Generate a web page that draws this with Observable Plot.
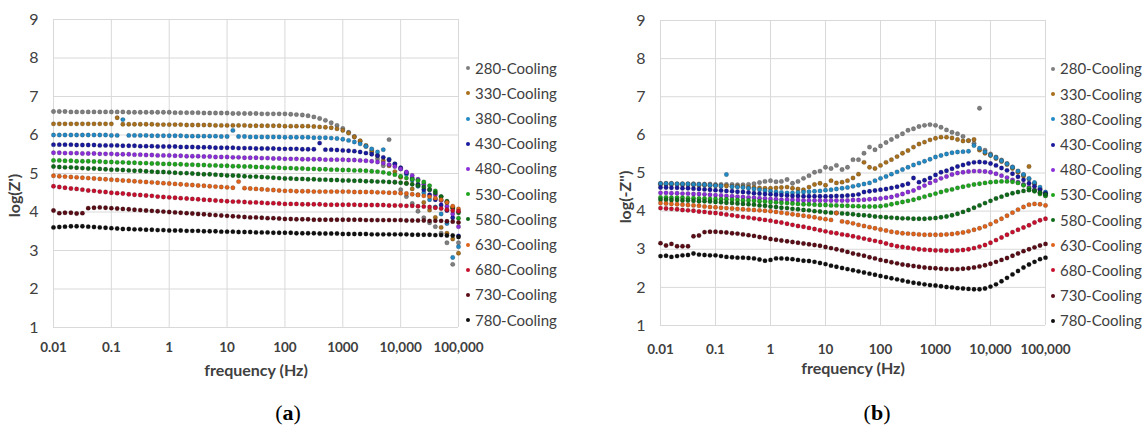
<!DOCTYPE html>
<html><head><meta charset="utf-8">
<script src="https://cdn.jsdelivr.net/npm/d3@7"></script>
<script src="https://cdn.jsdelivr.net/npm/@observablehq/plot@0.6"></script>
<style>
html,body{margin:0;padding:0;background:#fff;}
#wrap{position:relative;width:1146px;height:434px;overflow:hidden;background:#fff;font-family:Lato,"Open Sans",sans-serif;}
.panel{position:absolute;top:0;}
.legend{position:absolute;font-size:15px;color:#404040;line-height:25.2px;}
.legend .row{display:flex;align-items:center;white-space:nowrap;height:25.2px;}
.legend svg{margin-right:4px;}
.tag{position:absolute;font-family:"Liberation Serif",serif;font-size:22px;color:#000;transform:translate(-50%,-50%);}
</style></head><body><div id="wrap"></div><script>
// ---------- data ----------
const seriesNames = ["280-Cooling","330-Cooling","380-Cooling","430-Cooling","480-Cooling","530-Cooling","580-Cooling","630-Cooling","680-Cooling","730-Cooling","780-Cooling"];
const seriesColors = ["#7f7f7f","#a8701c","#2389c4","#1a1a9e","#8b2fd9","#1fa51f","#0f6a1a","#e0631b","#c8102e","#5a0d16","#111111"];
const xTicks = [0.01,0.1,1,10,100,1000,10000,100000];
const xTickLabels = ["0.01","0.1","1","10","100","1000","10,000","100,000"];
const yTicks = [1,2,3,4,5,6,7,8,9];
const freq = [
0.01,0.0126,0.0158,0.02,0.0251,0.0316,0.0398,0.0501,0.0631,0.0794,
0.1,0.126,0.158,0.2,0.251,0.316,0.398,0.501,0.631,0.794,
1,1.26,1.58,2,2.51,3.16,3.98,5.01,6.31,7.94,
10,12.6,15.8,20,25.1,31.6,39.8,50.1,63.1,79.4,
100,126,158,200,251,316,398,501,631,794,
1000,1259,1585,1995,2512,3162,3981,5012,6310,7943,
10000,12589,15849,19953,25119,31623,39811,50119,63096,79433,
100000];

// (a) log(Z')
const zr280 = [
6.61,6.61,6.61,6.60,6.60,6.60,6.60,6.60,6.60,6.60,
6.60,6.60,6.60,6.59,6.59,6.59,6.59,6.59,6.59,6.59,
6.59,6.58,6.58,6.58,6.58,6.58,6.57,6.57,6.57,6.57,
6.57,6.56,6.56,6.56,6.56,6.56,6.55,6.55,6.55,6.55,
6.55,6.54,6.53,6.52,6.50,6.47,6.43,6.38,6.32,6.25,
6.17,6.07,5.96,5.84,5.70,5.55,5.38,5.20,5.88,4.78,
4.58,4.40,4.22,4.02,3.85,3.72,3.62,3.45,3.20,2.64,
3.20];
const zr330 = [
6.29,6.29,6.29,6.29,6.29,6.29,6.29,6.29,6.29,6.29,
6.29,6.45,6.28,6.28,6.28,6.28,6.28,6.28,6.27,6.27,
6.27,6.27,6.27,6.26,6.26,6.26,6.26,6.26,6.25,6.25,
6.25,6.25,6.25,6.25,6.24,6.24,6.24,6.24,6.24,6.24,
6.23,6.23,6.23,6.23,6.23,6.22,6.21,6.20,6.19,6.16,
6.12,6.05,5.95,5.85,5.73,5.60,5.47,5.33,5.20,5.05,
4.90,4.75,4.60,4.45,4.25,4.05,3.86,3.60,3.45,3.30,
2.93];
const zr380 = [
6.00,6.00,6.00,6.00,6.00,6.00,6.00,6.00,6.00,6.00,
5.99,5.99,6.40,5.99,5.99,5.99,5.99,5.98,5.98,5.98,
5.98,5.98,5.98,5.97,5.97,5.97,5.97,5.97,5.97,5.96,
5.96,6.12,5.96,5.96,5.95,5.95,5.95,5.95,5.95,5.95,
5.94,5.94,5.94,5.94,5.94,5.93,5.93,5.93,5.92,5.91,
5.89,5.86,5.82,5.77,5.71,5.64,5.56,5.62,5.37,5.25,
5.12,4.98,4.83,4.67,4.50,4.32,4.13,3.95,3.70,2.82,
3.10];
const zr430 = [
5.75,5.75,5.75,5.75,5.74,5.74,5.74,5.74,5.73,5.73,
5.73,5.73,5.72,5.72,5.72,5.71,5.71,5.71,5.70,5.70,
5.70,5.70,5.69,5.69,5.69,5.68,5.68,5.68,5.67,5.67,
5.67,5.67,5.66,5.66,5.66,5.65,5.65,5.65,5.65,5.64,
5.64,5.64,5.64,5.63,5.63,5.63,5.79,5.62,5.62,5.61,
5.60,5.59,5.58,5.56,5.53,5.50,5.46,5.42,5.35,5.25,
5.15,5.02,4.88,4.72,4.58,4.45,4.32,4.18,4.04,3.85,
3.38];
const zr480 = [
5.54,5.54,5.53,5.53,5.53,5.52,5.52,5.52,5.51,5.51,
5.51,5.50,5.50,5.50,5.49,5.49,5.48,5.48,5.47,5.47,
5.47,5.46,5.46,5.45,5.45,5.45,5.44,5.44,5.43,5.43,
5.43,5.42,5.42,5.41,5.41,5.41,5.40,5.40,5.39,5.39,
5.38,5.38,5.38,5.37,5.37,5.37,5.37,5.36,5.36,5.36,
5.36,5.35,5.35,5.34,5.33,5.32,5.30,5.27,5.23,5.18,
5.12,5.04,4.95,4.85,4.72,4.58,4.45,4.30,4.15,3.95,
3.62];
const zr530 = [
5.34,5.34,5.33,5.33,5.32,5.32,5.32,5.31,5.31,5.30,
5.30,5.29,5.29,5.28,5.28,5.27,5.27,5.26,5.26,5.25,
5.25,5.24,5.24,5.23,5.23,5.22,5.22,5.21,5.21,5.20,
5.20,5.19,5.19,5.18,5.18,5.17,5.17,5.16,5.16,5.15,
5.14,5.14,5.13,5.13,5.12,5.12,5.11,5.11,5.10,5.10,
5.09,5.09,5.08,5.08,5.07,5.06,5.05,5.03,5.00,4.97,
4.93,4.88,4.85,4.82,4.78,4.68,4.55,4.40,4.25,4.10,
3.84];
const zr580 = [
5.18,5.17,5.16,5.16,5.15,5.14,5.13,5.13,5.12,5.11,
5.10,5.10,5.09,5.08,5.07,5.07,5.06,5.05,5.04,5.04,
5.03,5.02,5.01,5.01,5.00,4.99,4.98,4.98,4.97,4.96,
4.95,4.95,4.94,4.93,4.92,4.92,4.91,4.90,4.89,4.88,
4.87,4.87,4.86,4.86,4.85,4.85,4.84,4.84,4.83,4.83,
4.82,4.82,4.81,4.81,4.80,4.80,4.79,4.79,4.78,4.77,
4.76,4.74,4.72,4.69,4.65,4.58,4.50,4.40,4.28,4.12,
3.98];
const zr630 = [
4.94,4.93,4.92,4.91,4.90,4.89,4.88,4.87,4.86,4.85,
4.84,4.83,4.82,4.81,4.80,4.79,4.78,4.77,4.76,4.75,
4.74,4.73,4.72,4.71,4.70,4.69,4.68,4.67,4.66,4.65,
4.64,4.63,4.79,4.62,4.61,4.60,4.59,4.58,4.57,4.56,
4.55,4.55,4.54,4.54,4.54,4.53,4.53,4.53,4.53,4.53,
4.53,4.53,4.52,4.52,4.52,4.52,4.51,4.51,4.50,4.50,
4.49,4.48,4.46,4.44,4.42,4.40,4.36,4.32,4.25,4.15,
4.08];
const zr680 = [
4.67,4.65,4.63,4.61,4.60,4.58,4.56,4.55,4.53,4.52,
4.50,4.49,4.48,4.46,4.45,4.44,4.43,4.42,4.40,4.39,
4.38,4.37,4.36,4.35,4.34,4.33,4.32,4.31,4.30,4.29,
4.28,4.27,4.27,4.26,4.25,4.25,4.24,4.23,4.23,4.22,
4.21,4.21,4.21,4.20,4.20,4.20,4.20,4.19,4.19,4.19,
4.19,4.19,4.19,4.18,4.18,4.18,4.18,4.18,4.17,4.17,
4.17,4.16,4.16,4.15,4.14,4.13,4.11,4.09,4.06,4.04,
4.02];
const zr730 = [
4.04,3.97,3.98,3.98,3.96,3.97,4.10,4.11,4.12,4.11,
4.10,4.09,4.08,4.07,4.06,4.05,4.04,4.03,4.02,4.01,
4.00,3.99,3.98,3.97,3.96,3.95,3.94,3.93,3.92,3.91,
3.90,3.89,3.88,3.87,3.86,3.86,3.85,3.84,3.84,3.83,
3.82,3.82,3.81,3.81,3.81,3.80,3.80,3.80,3.80,3.80,
3.80,3.80,3.80,3.80,3.79,3.79,3.79,3.79,3.79,3.79,
3.79,3.78,3.78,3.78,3.78,3.77,3.77,3.77,3.76,3.75,
3.73];
const zr780 = [
3.60,3.61,3.62,3.63,3.63,3.63,3.62,3.61,3.60,3.59,
3.58,3.57,3.56,3.56,3.55,3.55,3.54,3.54,3.53,3.53,
3.52,3.52,3.52,3.51,3.51,3.51,3.50,3.50,3.50,3.49,
3.49,3.49,3.48,3.48,3.48,3.47,3.47,3.47,3.46,3.46,
3.46,3.46,3.45,3.45,3.45,3.45,3.44,3.44,3.44,3.44,
3.43,3.43,3.43,3.43,3.43,3.42,3.42,3.42,3.42,3.42,
3.42,3.42,3.41,3.41,3.41,3.41,3.40,3.40,3.39,3.39,
3.35];

// (b) log(-Z'')
const zi280 = [
4.73,4.73,4.73,4.72,4.72,4.72,4.72,4.71,4.71,4.71,
4.70,4.70,4.70,4.70,4.69,4.69,4.70,4.72,4.75,4.78,
4.80,4.77,4.78,4.83,4.73,4.78,4.86,4.93,5.02,5.05,
5.15,5.12,5.20,5.09,5.15,5.35,5.35,5.52,5.68,5.61,
5.71,5.80,5.88,5.96,6.03,6.12,6.16,6.22,6.25,6.27,
6.25,6.20,6.13,6.07,6.03,5.96,5.85,5.78,6.70,5.60,
5.50,5.42,5.34,5.25,5.16,5.05,4.95,4.84,4.72,4.58,
4.45];
const zi330 = [
4.70,4.70,4.70,4.70,4.69,4.69,4.69,4.68,4.68,4.67,
4.67,4.66,4.66,4.65,4.65,4.64,4.63,4.62,4.61,4.60,
4.60,4.61,4.62,4.63,4.60,4.58,4.56,4.63,4.70,4.73,
4.68,4.80,4.74,4.76,4.80,4.87,4.97,5.28,5.15,5.12,
5.20,5.28,5.35,5.43,5.52,5.59,5.68,5.76,5.81,5.87,
5.91,5.94,5.94,5.92,5.88,5.84,5.85,5.88,5.60,5.52,
5.46,5.38,5.30,5.22,5.12,5.02,4.92,5.17,4.72,4.58,
4.46];
const zi380 = [
4.72,4.72,4.72,4.71,4.71,4.71,4.70,4.70,4.69,4.68,
4.67,4.66,4.96,4.64,4.63,4.62,4.60,4.58,4.56,4.54,
4.52,4.50,4.49,4.48,4.48,4.49,4.50,4.51,4.52,4.53,
4.55,4.56,4.58,4.60,4.62,4.65,4.68,4.71,4.74,4.80,
4.86,4.91,4.97,5.03,5.09,5.15,5.21,5.26,5.31,5.36,
5.42,5.46,5.50,5.53,5.55,5.56,5.57,5.72,5.65,5.55,
5.47,5.40,5.32,5.24,5.15,5.05,4.96,4.86,4.75,4.63,
4.50];
const zi430 = [
4.62,4.62,4.61,4.61,4.60,4.60,4.59,4.58,4.57,4.56,
4.55,4.54,4.53,4.52,4.51,4.50,4.49,4.47,4.46,4.45,
4.44,4.43,4.42,4.41,4.40,4.40,4.39,4.39,4.39,4.39,
4.39,4.39,4.40,4.40,4.41,4.42,4.44,4.50,4.52,4.54,
4.56,4.58,4.61,4.64,4.68,4.72,4.87,4.76,4.81,4.87,
4.95,5.02,5.06,5.11,5.17,5.21,5.25,5.28,5.29,5.28,
5.25,5.20,5.13,5.07,4.98,4.90,4.82,4.73,4.65,4.56,
4.47];
const zi480 = [
4.48,4.48,4.47,4.47,4.46,4.46,4.45,4.45,4.44,4.43,
4.42,4.41,4.40,4.39,4.38,4.37,4.36,4.35,4.34,4.33,
4.32,4.31,4.30,4.30,4.29,4.29,4.28,4.28,4.28,4.28,
4.28,4.28,4.28,4.28,4.28,4.29,4.29,4.30,4.31,4.32,
4.33,4.35,4.37,4.41,4.45,4.50,4.54,4.61,4.67,4.74,
4.80,4.86,4.91,4.96,5.00,5.02,5.04,5.05,5.05,5.04,
5.02,4.98,4.93,4.88,4.82,4.76,4.70,4.63,4.56,4.48,
4.41];
const zi530 = [
4.36,4.36,4.35,4.35,4.35,4.34,4.34,4.33,4.33,4.32,
4.32,4.31,4.31,4.30,4.29,4.28,4.28,4.27,4.26,4.25,
4.24,4.23,4.22,4.21,4.20,4.19,4.18,4.18,4.17,4.16,
4.16,4.15,4.15,4.14,4.14,4.13,4.13,4.12,4.12,4.12,
4.13,4.15,4.18,4.21,4.24,4.27,4.30,4.34,4.38,4.42,
4.46,4.50,4.54,4.57,4.61,4.64,4.67,4.70,4.72,4.74,
4.76,4.77,4.78,4.78,4.77,4.74,4.68,4.60,4.52,4.45,
4.40];
const zi580 = [
4.30,4.30,4.29,4.29,4.28,4.28,4.27,4.26,4.26,4.25,
4.24,4.23,4.22,4.21,4.20,4.19,4.18,4.17,4.15,4.14,
4.12,4.11,4.09,4.08,4.06,4.05,4.03,4.02,4.00,3.99,
3.97,3.96,3.95,3.94,3.93,3.92,3.90,3.89,3.88,3.86,
3.85,3.84,3.83,3.82,3.81,3.81,3.80,3.80,3.80,3.81,
3.82,3.84,3.86,3.89,3.93,3.98,4.03,4.09,4.15,4.21,
4.27,4.33,4.38,4.43,4.47,4.50,4.53,4.55,4.54,4.49,
4.44];
const zi630 = [
4.21,4.20,4.19,4.18,4.17,4.16,4.15,4.14,4.12,4.11,
4.10,4.09,4.08,4.07,4.06,4.05,4.04,4.03,4.02,4.01,
4.00,3.98,3.96,3.94,3.92,3.90,3.88,3.86,3.84,3.81,
3.79,3.77,3.95,3.73,3.71,3.68,3.64,3.61,3.58,3.55,
3.52,3.49,3.46,3.44,3.42,3.41,3.40,3.39,3.38,3.38,
3.38,3.38,3.39,3.40,3.42,3.44,3.47,3.51,3.55,3.60,
3.66,3.73,3.80,3.88,3.96,4.04,4.11,4.17,4.19,4.18,
4.15];
const zi680 = [
4.08,4.07,4.06,4.05,4.03,4.02,4.01,3.99,3.98,3.96,
3.95,3.93,3.91,3.89,3.87,3.85,3.83,3.81,3.79,3.77,
3.75,3.72,3.70,3.67,3.64,3.61,3.59,3.56,3.53,3.50,
3.47,3.44,3.42,3.39,3.37,3.34,3.31,3.28,3.25,3.22,
3.19,3.15,3.11,3.08,3.06,3.04,3.02,3.00,2.99,2.98,
2.97,2.97,2.96,2.96,2.97,2.98,3.00,3.03,3.07,3.11,
3.17,3.24,3.31,3.38,3.45,3.51,3.57,3.63,3.70,3.76,
3.80];
const zi730 = [
3.16,3.10,3.14,3.08,3.08,3.08,3.34,3.36,3.45,3.46,
3.46,3.45,3.44,3.42,3.41,3.39,3.37,3.35,3.32,3.30,
3.27,3.25,3.23,3.21,3.19,3.17,3.15,3.13,3.11,3.09,
3.06,3.03,3.00,2.97,2.93,2.89,2.86,2.83,2.79,2.76,
2.72,2.69,2.66,2.63,2.60,2.58,2.56,2.54,2.52,2.51,
2.50,2.49,2.48,2.48,2.48,2.49,2.50,2.52,2.55,2.58,
2.62,2.67,2.72,2.77,2.83,2.89,2.95,3.00,3.05,3.10,
3.14];
const zi780 = [
2.82,2.83,2.80,2.82,2.84,2.85,2.89,2.86,2.85,2.84,
2.84,2.82,2.80,2.79,2.78,2.78,2.77,2.76,2.73,2.70,
2.72,2.76,2.76,2.75,2.74,2.72,2.70,2.69,2.67,2.64,
2.61,2.57,2.54,2.51,2.48,2.45,2.42,2.39,2.36,2.33,
2.30,2.27,2.24,2.21,2.18,2.15,2.12,2.10,2.08,2.06,
2.05,2.03,2.01,2.00,1.98,1.97,1.96,1.95,1.95,1.97,
2.02,2.08,2.16,2.25,2.34,2.43,2.52,2.60,2.67,2.74,
2.78];

const realSeries = [zr280,zr330,zr380,zr430,zr480,zr530,zr580,zr630,zr680,zr730,zr780];
const imagSeries = [zi280,zi330,zi380,zi430,zi480,zi530,zi580,zi630,zi680,zi730,zi780];

// ---------- drawing ----------
const wrap = document.getElementById("wrap");

function makePanel(seriesList, o) {
  const rows = [];
  seriesList.forEach((vals, s) => vals.forEach((v, i) => {
    if (v != null) rows.push({f: freq[i], v, s: seriesNames[s]});
  }));
  const plot = Plot.plot({
    width: o.width, height: o.height,
    marginLeft: o.ml, marginRight: o.mr, marginTop: o.mt, marginBottom: o.mb,
    style: {fontFamily: "Lato, sans-serif", background: "transparent", overflow: "visible"},
    x: {type: "log", domain: [0.01, 100000]},
    y: {domain: [1, 9]},
    color: {domain: seriesNames, range: seriesColors},
    marks: [
      Plot.gridX(xTicks, {stroke: "#d9d9d9", strokeOpacity: 1, strokeWidth: 1}),
      Plot.gridY(yTicks, {stroke: "#d9d9d9", strokeOpacity: 1, strokeWidth: 1}),
      Plot.dot(rows, {x: "f", y: "v", fill: "s", r: 2.2, stroke: "rgba(0,0,0,0.3)", strokeWidth: 0.6}),
      Plot.axisX(xTicks, {tickSize: 0, tickPadding: o.xpad, tickFormat: d => xTickLabels[xTicks.indexOf(d)],
        fontSize: 13.5, fontWeight: "bold", fill: "#404040", label: null}),
      Plot.axisY(yTicks, {tickSize: 0, tickPadding: 15, fontSize: 16, fill: "#404040", label: null}),
      Plot.text(["frequency (Hz)"], {text: d => d, frameAnchor: "bottom", dy: o.xlabDy,
        textAnchor: "middle", lineAnchor: "middle",
        fontSize: 16, fontWeight: "bold", fill: "#404040"}),
      Plot.text([o.ylabel], {text: d => d, frameAnchor: "left", dx: o.ylabDx, dy: o.ylabDy, rotate: -90,
        textAnchor: "middle", lineAnchor: "middle",
        fontSize: 16, fontWeight: "bold", fill: "#404040"})
    ]
  });
  plot.classList.add("panel");
  plot.style.left = o.left + "px";
  wrap.appendChild(plot);

  const leg = document.createElement("div");
  leg.className = "legend";
  leg.style.left = (o.legX - 3) + "px";
  leg.style.top = (o.legY - 12.6) + "px";
  seriesNames.forEach((n, s) => {
    const r = document.createElement("div");
    r.className = "row";
    r.innerHTML = `<svg width="6" height="6"><circle cx="3" cy="3" r="2" fill="${seriesColors[s]}"/></svg><span>${n}</span>`;
    leg.appendChild(r);
  });
  wrap.appendChild(leg);

  const tag = document.createElement("div");
  tag.className = "tag";
  tag.style.left = o.tagX + "px";
  tag.style.top = "413px";
  tag.innerHTML = `(<b>${o.tag}</b>)`;
  wrap.appendChild(tag);
}

makePanel(realSeries, {left: 0, width: 570, height: 395, ml: 53, mr: 112, mt: 19, mb: 68,
  xpad: 15, xlabDy: 43, ylabel: "log(Z')", ylabDx: -39, ylabDy: 22,
  legX: 468, legY: 68.3, tag: "a", tagX: 288});
makePanel(imagSeries, {left: 600, width: 546, height: 395, ml: 60, mr: 101, mt: 20, mb: 70,
  xpad: 19, xlabDy: 43, ylabel: "log(-Z'')", ylabDx: -35, ylabDy: 24,
  legX: 1053, legY: 69, tag: "b", tagX: 877});
</script></body></html>
